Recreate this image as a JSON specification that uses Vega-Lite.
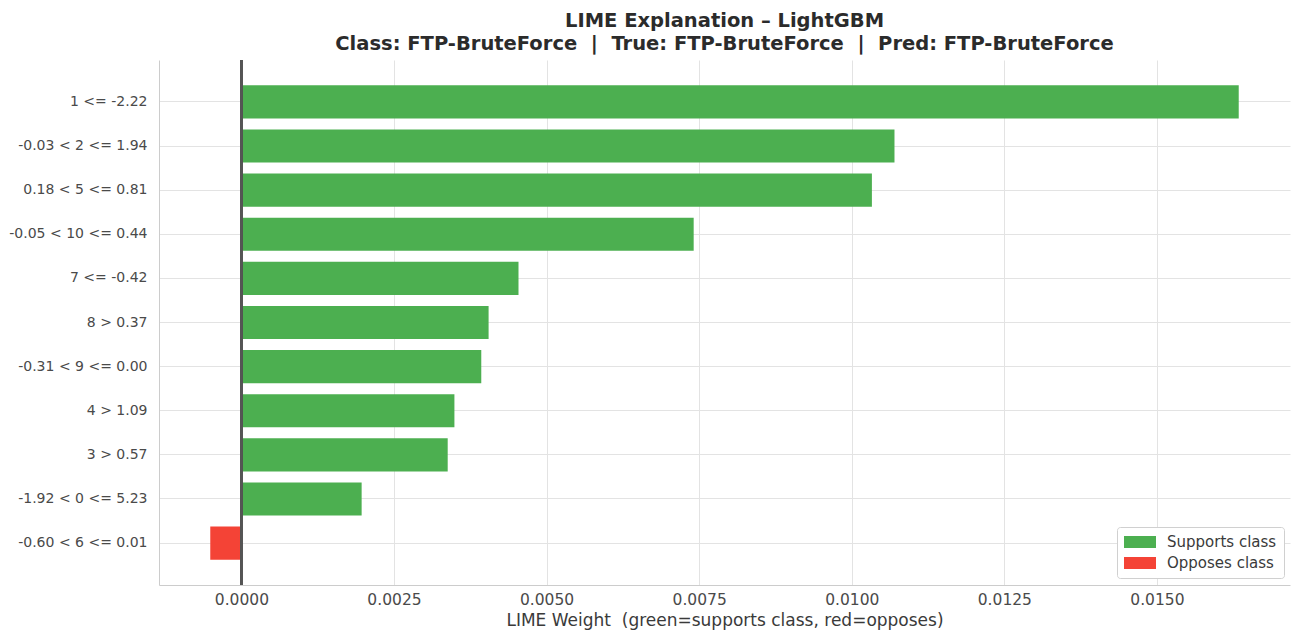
{
  "$schema": "https://vega.github.io/schema/vega-lite/v6.json",
  "width": 1131,
  "height": 525,
  "autosize": "none",
  "padding": {"left": 159, "top": 60, "right": 4, "bottom": 51},
  "background": "white",
  "title": {
    "text": ["LIME Explanation – LightGBM", "Class: FTP-BruteForce\u00a0\u00a0|\u00a0\u00a0True: FTP-BruteForce\u00a0\u00a0|\u00a0\u00a0Pred: FTP-BruteForce"],
    "font": "DejaVu Sans",
    "fontSize": 19.5,
    "fontWeight": "bold",
    "color": "#2b2b2b",
    "lineHeight": 22.5,
    "offset": 5,
    "anchor": "middle",
    "frame": "group"
  },
  "config": {
    "view": {"stroke": null},
    "font": "DejaVu Sans"
  },
  "data": {
    "values": [
      {"feature": "1 <= -2.22", "weight": 0.01634, "effect": "Supports class"},
      {"feature": "-0.03 < 2 <= 1.94", "weight": 0.01070, "effect": "Supports class"},
      {"feature": "0.18 < 5 <= 0.81", "weight": 0.01033, "effect": "Supports class"},
      {"feature": "-0.05 < 10 <= 0.44", "weight": 0.00741, "effect": "Supports class"},
      {"feature": "7 <= -0.42", "weight": 0.00454, "effect": "Supports class"},
      {"feature": "8 > 0.37", "weight": 0.00405, "effect": "Supports class"},
      {"feature": "-0.31 < 9 <= 0.00", "weight": 0.00393, "effect": "Supports class"},
      {"feature": "4 > 1.09", "weight": 0.00349, "effect": "Supports class"},
      {"feature": "3 > 0.57", "weight": 0.00338, "effect": "Supports class"},
      {"feature": "-1.92 < 0 <= 5.23", "weight": 0.00197, "effect": "Supports class"},
      {"feature": "-0.60 < 6 <= 0.01", "weight": -0.00051, "effect": "Opposes class"}
    ]
  },
  "layer": [
    {
      "mark": {"type": "bar"},
      "encoding": {
        "x": {
          "field": "weight",
          "type": "quantitative",
          "scale": {"domain": [-0.00135, 0.01718], "nice": false, "zero": false},
          "axis": {
            "values": [0, 0.0025, 0.005, 0.0075, 0.01, 0.0125, 0.015],
            "format": ".4f",
            "title": "LIME Weight\u00a0\u00a0(green=supports class, red=opposes)",
            "grid": true,
            "gridColor": "#e3e3e3",
            "domainColor": "#cccccc",
            "ticks": false,
            "labelPadding": 7,
            "labelFontSize": 15.5,
            "labelColor": "#4a4a4a",
            "titleFontSize": 17,
            "titleFontWeight": "normal",
            "titleColor": "#3a3a3a",
            "titlePadding": 5
          }
        },
        "y": {
          "field": "feature",
          "type": "nominal",
          "sort": null,
          "scale": {"paddingInner": 0.25, "paddingOuter": 0.575},
          "axis": {
            "title": null,
            "ticks": false,
            "labelPadding": 12,
            "labelFontSize": 14,
            "labelColor": "#4a4a4a",
            "grid": true,
            "gridColor": "#e3e3e3",
            "domainColor": "#cccccc"
          }
        },
        "color": {
          "field": "effect",
          "type": "nominal",
          "scale": {"domain": ["Supports class", "Opposes class"], "range": ["#4caf50", "#f44336"]},
          "legend": {
            "title": null,
            "orient": "none",
            "legendX": 958,
            "legendY": 467,
            "symbolType": "M-1,-0.75H3V0.75H-1Z",
            "symbolSize": 256,
            "symbolStrokeWidth": 0,
            "labelOffset": 27,
            "labelFontSize": 15,
            "labelColor": "#3a3a3a",
            "rowPadding": 5,
            "padding": 7,
            "strokeColor": "#d0d0d0",
            "fillColor": "white",
            "cornerRadius": 3
          }
        }
      }
    },
    {
      "mark": {"type": "rule", "color": "#555555", "strokeWidth": 1.8},
      "encoding": {"x": {"datum": 0}}
    }
  ]
}
